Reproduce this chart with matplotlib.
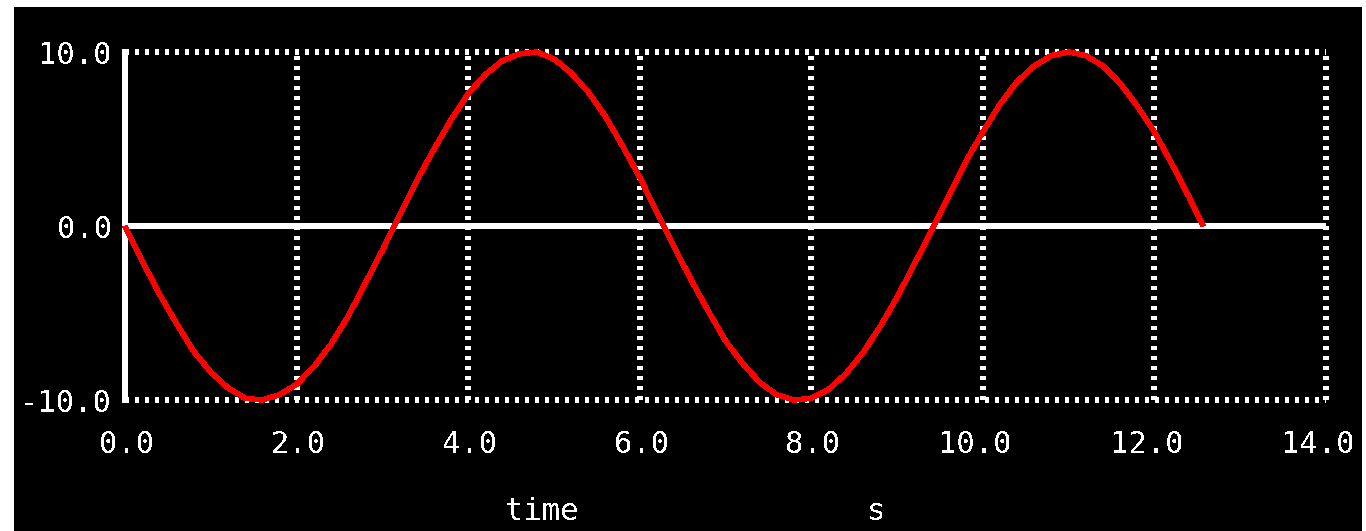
import matplotlib
matplotlib.use("Agg")
import matplotlib.pyplot as plt
from matplotlib.patches import Rectangle
from matplotlib.transforms import ScaledTranslation

# sampled signal
time = [0.0, 0.2, 0.4, 0.6, 0.8, 1.0, 1.2, 1.4, 1.6, 1.8,
        2.0, 2.2, 2.4, 2.6, 2.8, 3.0, 3.2, 3.4, 3.6, 3.8,
        4.0, 4.2, 4.4, 4.6, 4.8, 5.0, 5.2, 5.4, 5.6, 5.8,
        6.0, 6.2, 6.4, 6.6, 6.8, 7.0, 7.2, 7.4, 7.6, 7.8,
        8.0, 8.2, 8.4, 8.6, 8.8, 9.0, 9.2, 9.4, 9.6, 9.8,
        10.0, 10.2, 10.4, 10.6, 10.8, 11.0, 11.2, 11.4, 11.6, 11.8,
        12.0, 12.2, 12.4, 12.57]
signal = [0.0, -2.0, -3.9, -5.6, -7.2, -8.4, -9.3, -9.9, -10.0, -9.7,
          -9.1, -8.1, -6.8, -5.2, -3.3, -1.4, 0.6, 2.6, 4.4, 6.1,
          7.6, 8.7, 9.5, 9.9, 10.0, 9.6, 8.8, 7.7, 6.3, 4.6,
          2.8, 0.8, -1.2, -3.1, -4.9, -6.6, -7.9, -9.0, -9.7, -10.0,
          -9.9, -9.4, -8.5, -7.3, -5.8, -4.1, -2.2, -0.3, 1.7, 3.7,
          5.4, 7.0, 8.3, 9.2, 9.8, 10.0, 9.8, 9.2, 8.2, 6.9,
          5.4, 3.6, 1.7, 0.0]

xticks = [0, 2, 4, 6, 8, 10, 12, 14]
xtick_labels = ["0.0", "2.0", "4.0", "6.0", "8.0", "10.0", "12.0", "14.0"]
yticks = [-10, 0, 10]
ytick_labels = ["-10.0", "0.0", "10.0"]
x_label = "time"
x_unit = "s"

W, H, DPI = 1366, 531, 100
PX = 72.0 / DPI  # points per pixel

plt.rcParams["font.family"] = ["DejaVu Sans Mono"]
plt.rcParams["text.antialiased"] = False
plt.rcParams["lines.scale_dashes"] = False

fig = plt.figure(figsize=(W / DPI, H / DPI), dpi=DPI, facecolor="white")
# black panel with a thin white margin at left, top and right
fig.patches.append(Rectangle((14 / W, 0), (1362 - 14) / W, (H - 7) / H,
                             transform=fig.transFigure, facecolor="black",
                             edgecolor="none", zorder=-5))

ax = fig.add_axes([125 / W, 131 / H, (1326 - 125) / W, (400 - 52) / H])
ax.set_zorder(5)
ax.set_facecolor("black")
ax.set_xlim(0, 14)
ax.set_ylim(-10, 10)

dotted = (0, (3 * PX, 6 * PX))
lw = 6 * PX

# dotted vertical grid and dotted frame
for xv in xticks[1:]:
    ax.axvline(xv, color="white", lw=lw, linestyle=dotted,
               dash_capstyle="butt", antialiased=False, clip_on=False, zorder=2)
for yv in (-10, 10):
    ax.axhline(yv, color="white", lw=lw, linestyle=dotted,
               dash_capstyle="butt", antialiased=False, clip_on=False, zorder=2)

# solid zero line and left axis
ax.axhline(0, color="white", lw=lw, antialiased=False, zorder=3)
ax.axvline(0, color="white", lw=lw, antialiased=False, clip_on=False, zorder=3)

ax.plot(time, signal, color="#ff0000", lw=4.5 * PX, antialiased=False,
        solid_capstyle="butt", clip_on=False, zorder=4)

for s in ax.spines.values():
    s.set_visible(False)

ax.set_xticks(xticks)
ax.set_xticklabels(xtick_labels)
ax.set_yticks(yticks)
ax.set_yticklabels(ytick_labels)
ax.tick_params(length=0, colors="white", labelsize=22)
ax.tick_params(axis="x", pad=30 * PX)
ax.tick_params(axis="y", pad=13 * PX)

shift = ScaledTranslation(29 / DPI, 0, fig.dpi_scale_trans)
for lab in ax.get_xticklabels():
    lab.set_horizontalalignment("right")
    lab.set_transform(lab.get_transform() + shift)

fig.text(542 / W, 1 - 511 / H, x_label, color="white", fontsize=22,
         ha="center", va="center")
fig.text(876 / W, 1 - 511 / H, x_unit, color="white", fontsize=22,
         ha="center", va="center")

fig.savefig("out.png", dpi=DPI, facecolor=fig.get_facecolor())
